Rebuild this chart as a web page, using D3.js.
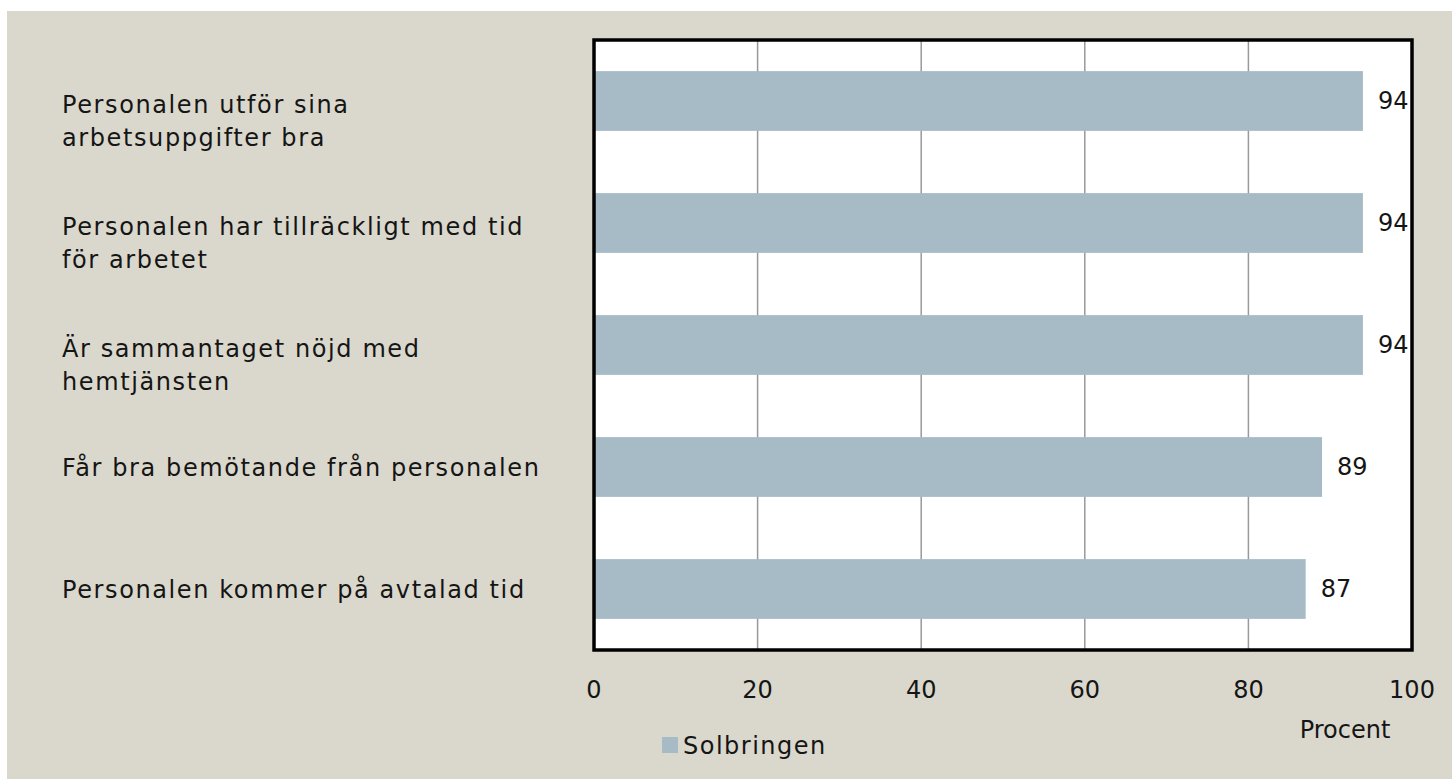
<!DOCTYPE html>
<html>
<head>
<meta charset="utf-8">
<script src="https://cdn.jsdelivr.net/npm/d3@7.9.0/dist/d3.min.js"></script>
<style>
  html, body { margin: 0; padding: 0; background: #fff; }
  svg text { font-family: "DejaVu Sans", "Open Sans", sans-serif; fill: #151515; }
  .cat { letter-spacing: 1.6px; }
</style>
</head>
<body>
<svg id="chart" width="1452" height="779"></svg>
<script>
// Data
const categories = [
  ["Personalen utför sina", "arbetsuppgifter bra"],
  ["Personalen har tillräckligt med tid", "för arbetet"],
  ["Är sammantaget nöjd med", "hemtjänsten"],
  ["Får bra bemötande från personalen"],
  ["Personalen kommer på avtalad tid"]
];
const values = [94, 94, 94, 89, 87];
const xTicks = [0, 20, 40, 60, 80, 100];
const seriesName = "Solbringen";
const axisTitle = "Procent";

const svg = d3.select("#chart");
const fs = 24;

// beige chart background
svg.append("rect")
  .attr("x", 7).attr("y", 11)
  .attr("width", 1445).attr("height", 768)
  .attr("fill", "#dad8cc");

const plot = { left: 594, right: 1412, top: 40, bottom: 650 };

const x = d3.scaleLinear().domain([0, 100]).range([plot.left, plot.right]);
const y = d3.scaleBand()
  .domain(d3.range(values.length))
  .range([plot.top, plot.bottom])
  .paddingInner(0.51).paddingOuter(0.255);

// plot area
svg.append("rect")
  .attr("x", plot.left).attr("y", plot.top)
  .attr("width", plot.right - plot.left).attr("height", plot.bottom - plot.top)
  .attr("fill", "#fff");

// gridlines
svg.append("g")
  .selectAll("line")
  .data(xTicks.slice(1, -1))
  .join("line")
  .attr("x1", d => x(d)).attr("x2", d => x(d))
  .attr("y1", plot.top).attr("y2", plot.bottom)
  .attr("stroke", "#999").attr("stroke-width", 1.5);

// bars
svg.append("g")
  .selectAll("rect")
  .data(values)
  .join("rect")
  .attr("x", x(0))
  .attr("y", (d, i) => y(i))
  .attr("width", d => x(d) - x(0))
  .attr("height", y.bandwidth())
  .attr("fill", "#a7bbc6");

// value labels
svg.append("g")
  .selectAll("text")
  .data(values)
  .join("text")
  .attr("x", d => x(d) + 15)
  .attr("y", (d, i) => y(i) + y.bandwidth() / 2)
  .attr("dy", "0.35em")
  .attr("font-size", fs)
  .text(d => d);

// plot border
svg.append("rect")
  .attr("x", plot.left).attr("y", plot.top)
  .attr("width", plot.right - plot.left).attr("height", plot.bottom - plot.top)
  .attr("fill", "none").attr("stroke", "#000").attr("stroke-width", 3.5);

// category labels
const catG = svg.append("g");
categories.forEach((lines, i) => {
  const cy = y(i) + y.bandwidth() / 2;
  const t = catG.append("text")
    .attr("class", "cat")
    .attr("x", 62)
    .attr("font-size", fs);
  lines.forEach((line, j) => {
    t.append("tspan")
      .attr("x", 62)
      .attr("y", lines.length > 1 ? cy + 4 + j * 33 : cy + 1)
      .attr("dy", "0.35em")
      .text(line);
  });
});

// x axis tick labels
svg.append("g")
  .selectAll("text")
  .data(xTicks)
  .join("text")
  .attr("x", d => x(d))
  .attr("y", 690)
  .attr("dy", "0.35em")
  .attr("text-anchor", "middle")
  .attr("font-size", fs)
  .text(d => d);

// axis title
svg.append("text")
  .attr("x", 1345).attr("y", 730)
  .attr("dy", "0.35em")
  .attr("text-anchor", "middle")
  .attr("font-size", fs)
  .text(axisTitle);

// legend
svg.append("rect")
  .attr("x", 662).attr("y", 737)
  .attr("width", 16).attr("height", 16)
  .attr("fill", "#a7bbc6");
svg.append("text")
  .attr("x", 683).attr("y", 746)
  .attr("dy", "0.35em")
  .attr("font-size", fs)
  .attr("letter-spacing", 1.5)
  .text(seriesName);
</script>
</body>
</html>
